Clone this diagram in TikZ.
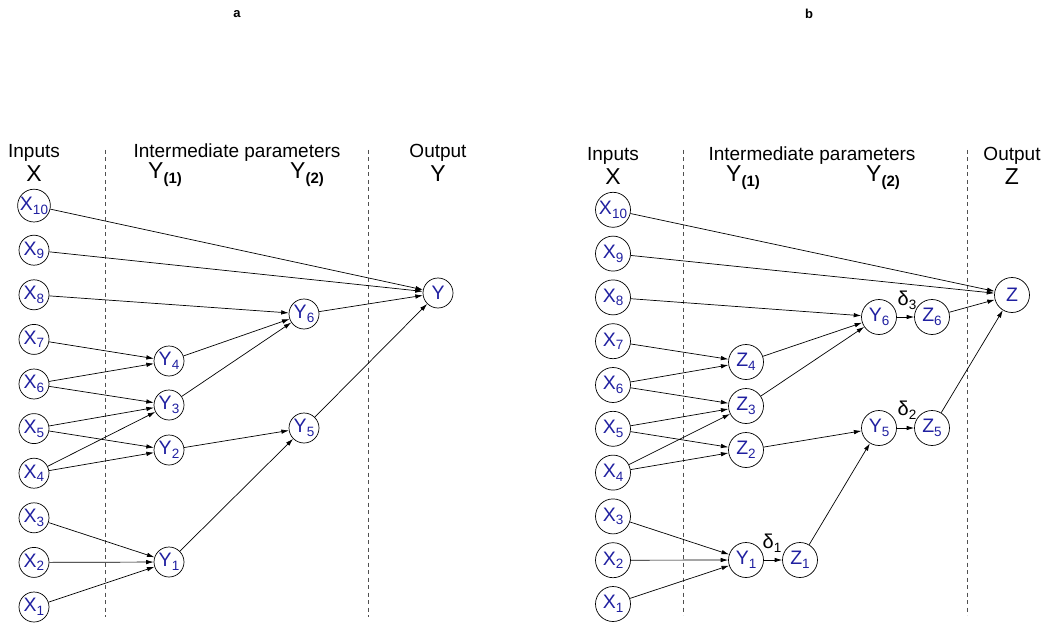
\documentclass[tikz,border=0pt]{standalone}
\usepackage{fontspec}
\setmainfont{Liberation Sans}
\usetikzlibrary{arrows.meta}
\definecolor{nodeblue}{RGB}{32,32,160}
\definecolor{dashgray}{RGB}{80,80,80}
\newcommand\sbs[1]{\raisebox{-0.35ex}{\fontsize{13.5}{14}\selectfont #1}}
\newcommand\hsub[1]{\raisebox{-0.4ex}{\fontsize{15}{16}\selectfont\bfseries #1}}
\tikzset{
  var/.style={circle,draw,line width=0.7pt,inner sep=0pt,minimum size=30pt,
    text=nodeblue,font=\fontsize{19.5}{21}\selectfont},
  varb/.style={var,minimum size=35pt},
  edge/.style={line width=0.7pt,-{Latex[length=7.5pt,width=4.5pt]}},
  sep/.style={dashgray,line width=0.8pt,dash pattern=on 4pt off 3.5pt},
  head/.style={font=\fontsize{19}{21}\selectfont},
  sym/.style={font=\fontsize{23}{24}\selectfont},
  panel/.style={font=\fontsize{13}{14}\selectfont\bfseries},
  dlab/.style={font=\fontsize{20}{21}\selectfont}
}
\begin{document}
\begin{tikzpicture}[x=1pt,y=-1pt]
\useasboundingbox (0,0) rectangle (1051,628);

% ---------- panel a ----------
\node[panel] (la) at (237,14) {a};
\draw[sep] (105,150) -- (105,617);
\draw[sep] (368,150) -- (368,617);
\node[head] (ina) at (34,153) {Inputs};
\node[sym]  (xa)  at (34,174) {X};
\node[head] (ima) at (237,153) {Intermediate parameters};
\node[sym]  (y1a) at (165,175) {Y\hsub{(1)}};
\node[sym]  (y2a) at (307,175) {Y\hsub{(2)}};
\node[head] (oua) at (438,153) {Output};
\node[sym]  (ya)  at (438,174) {Y};

\foreach \i in {1,...,10}{
  \node[var] (aX\i) at (34,{607-(\i-1)*44.6}) {X\sbs{\i}};
}
\node[var] (aY4) at (169,361) {Y\sbs{4}};
\node[var] (aY3) at (169,405) {Y\sbs{3}};
\node[var] (aY2) at (169,450) {Y\sbs{2}};
\node[var] (aY1) at (169,562) {Y\sbs{1}};
\node[var] (aY6) at (304,314) {Y\sbs{6}};
\node[var] (aY5) at (304,428) {Y\sbs{5}};
\node[var] (aY)  at (438,293) {Y};

\draw[edge] (aX10) -- (aY);
\draw[edge] (aX9) -- (aY);
\draw[edge] (aX8) -- (aY6);
\draw[edge] (aX7) -- (aY4);
\draw[edge] (aX6) -- (aY4);
\draw[edge] (aX6) -- (aY3);
\draw[edge] (aX5) -- (aY3);
\draw[edge] (aX4) -- (aY3);
\draw[edge] (aX5) -- (aY2);
\draw[edge] (aX4) -- (aY2);
\draw[edge] (aX3) -- (aY1);
\draw[edge] (aX2) -- (aY1);
\draw[edge] (aX1) -- (aY1);
\draw[edge] (aY4) -- (aY6);
\draw[edge] (aY3) -- (aY6);
\draw[edge] (aY2) -- (aY5);
\draw[edge] (aY1) -- (aY5);
\draw[edge] (aY6) -- (aY);
\draw[edge] (aY5) -- (aY);

% ---------- panel b ----------
\node[panel] (lb) at (809,14) {b};
\draw[sep] (683,150) -- (683,615);
\draw[sep] (967,150) -- (967,615);
\node[head] (inb) at (613,156) {Inputs};
\node[sym]  (xb)  at (613,177) {X};
\node[head] (imb) at (812,156) {Intermediate parameters};
\node[sym]  (y1b) at (743,178) {Y\hsub{(1)}};
\node[sym]  (y2b) at (883,178) {Y\hsub{(2)}};
\node[head] (oub) at (1012,156) {Output};
\node[sym]  (zb)  at (1012,177) {Z};

\foreach \i in {1,...,10}{
  \node[varb] (bX\i) at (613,{604-(\i-1)*43.8}) {X\sbs{\i}};
}
\node[varb] (bZ4) at (746,362) {Z\sbs{4}};
\node[varb] (bZ3) at (746,406) {Z\sbs{3}};
\node[varb] (bZ2) at (746,450) {Z\sbs{2}};
\node[varb] (bY1) at (746,560) {Y\sbs{1}};
\node[varb] (bZ1) at (800,560) {Z\sbs{1}};
\node[varb] (bY5) at (879,428) {Y\sbs{5}};
\node[varb] (bZ5) at (932,428) {Z\sbs{5}};
\node[varb] (bY6) at (879,317) {Y\sbs{6}};
\node[varb] (bZ6) at (932,317) {Z\sbs{6}};
\node[varb] (bZ)  at (1012,295) {Z};

\node[dlab] (d3) at (907,300) {δ\sbs{3}};
\node[dlab] (d2) at (907,410) {δ\sbs{2}};
\node[dlab] (d1) at (772,543) {δ\sbs{1}};

\draw[edge] (bX10) -- (bZ);
\draw[edge] (bX9) -- (bZ);
\draw[edge] (bX8) -- (bY6);
\draw[edge] (bX7) -- (bZ4);
\draw[edge] (bX6) -- (bZ4);
\draw[edge] (bX6) -- (bZ3);
\draw[edge] (bX5) -- (bZ3);
\draw[edge] (bX4) -- (bZ3);
\draw[edge] (bX5) -- (bZ2);
\draw[edge] (bX4) -- (bZ2);
\draw[edge] (bX3) -- (bY1);
\draw[edge] (bX2) -- (bY1);
\draw[edge] (bX1) -- (bY1);
\draw[edge] (bY1) -- (bZ1);
\draw[edge] (bZ4) -- (bY6);
\draw[edge] (bZ3) -- (bY6);
\draw[edge] (bZ2) -- (bY5);
\draw[edge] (bZ1) -- (bY5);
\draw[edge] (bY6) -- (bZ6);
\draw[edge] (bY5) -- (bZ5);
\draw[edge] (bZ6) -- (bZ);
\draw[edge] (bZ5) -- (bZ);
\end{tikzpicture}
\end{document}
